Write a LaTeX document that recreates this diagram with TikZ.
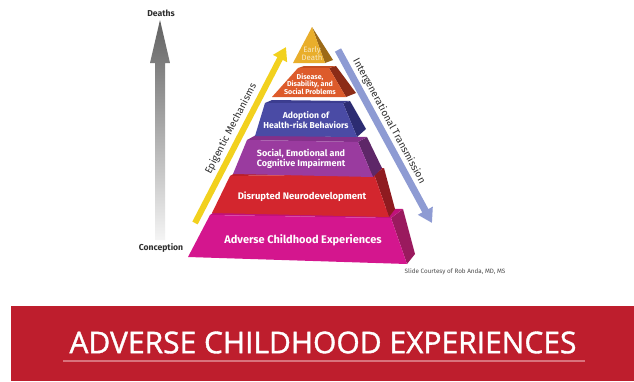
\documentclass[tikz,border=0pt]{standalone}
\usepackage{fontspec}
\setsansfont{Fira Sans}
\newfontfamily\bannerfont[FakeBold=1.2]{Open Sans}
\usetikzlibrary{arrows.meta}

\definecolor{magFront}{HTML}{D4168E}
\definecolor{magSide}{HTML}{9A1A5E}
\definecolor{magTop}{HTML}{C0127A}
\definecolor{redFront}{HTML}{D3262E}
\definecolor{redSide}{HTML}{8F1B20}
\definecolor{redTop}{HTML}{B81E26}
\definecolor{purFront}{HTML}{9A3B9F}
\definecolor{purSide}{HTML}{5E2768}
\definecolor{purTop}{HTML}{84308A}
\definecolor{bluFront}{HTML}{4A4BA5}
\definecolor{bluSide}{HTML}{2C2C72}
\definecolor{bluTop}{HTML}{3C3D90}
\definecolor{oraFront}{HTML}{DD5B2B}
\definecolor{oraSide}{HTML}{8C2C17}
\definecolor{oraTop}{HTML}{C54D22}
\definecolor{golFront}{HTML}{E9AE2B}
\definecolor{golSide}{HTML}{9C6A17}
\definecolor{epiYellow}{HTML}{F2D11E}
\definecolor{transBlue}{HTML}{8E9BD3}
\definecolor{labelGray}{HTML}{2E2E2E}
\definecolor{bannerRed}{HTML}{BE1E2D}
\definecolor{bannerLine}{HTML}{D9727C}

\newcommand\fsz[2]{\fontsize{#1}{#2}\selectfont}

\tikzset{
  tierlbl/.style={text=white, align=center, inner sep=0pt},
  sidelbl/.style={text=labelGray, inner sep=0pt},
  epiarrow/.style={draw=epiYellow, line width=6pt,
    -{Triangle[length=13pt,width=15pt]}},
  transarrow/.style={draw=transBlue, line width=7pt,
    -{Triangle[length=14pt,width=16pt]}},
}

\begin{document}
\begin{tikzpicture}[x=1pt,y=-1pt]
\fill[white] (0,0) rectangle (634,381);
\useasboundingbox (0,0) rectangle (634,381);

% time axis from conception to death
\shade[top color=black!62, middle color=black!30, bottom color=black!4]
  (160,20) -- (170,63) -- (165,63) -- (165,240) -- (155,240)
  -- (155,63) -- (150,63) -- cycle;
\node[sidelbl, font=\sffamily\bfseries\fsz{8.6}{10}] (deaths) at (161,13) {Deaths};
\node[sidelbl, font=\sffamily\bfseries\fsz{8.6}{10}] (conception) at (161,248) {Conception};

% side arrows
\coordinate (epiStart) at (195,223);
\coordinate (epiEnd) at (286,47);
\draw[epiarrow] (epiStart) -- (epiEnd);
\node[sidelbl, font=\sffamily\fsz{10}{10}, rotate=62.7] (epi) at (231,129) {Epigentic Mechanisms};

\coordinate (transStart) at (338,50);
\coordinate (transEnd) at (432,223);
\draw[transarrow] (transStart) -- (transEnd);
\node[sidelbl, font=\sffamily\fsz{10}{10}, rotate=-61.5] (trans) at (389,121) {Intergenerational Transmission};

% pyramid tiers, bottom to top: side face, top ledge, front face
% Adverse Childhood Experiences
\fill[magSide] (391,218) -- (403,209) -- (415,254) -- (407,264) -- cycle;
\fill[magTop] (210,215) -- (222,206) -- (403,209) -- (391,218) -- cycle;
\fill[magFront] (210,215) -- (391,218) -- (407,264) -- (188,257) -- cycle;
% Disrupted Neurodevelopment
\fill[redSide] (374,174) -- (384,168) -- (395,209) -- (389,217) -- cycle;
\fill[redTop] (230,176) -- (240,170) -- (384,168) -- (374,174) -- cycle;
\fill[redFront] (230,176) -- (374,174) -- (389,217) -- (212,213) -- cycle;
% Social, Emotional and Cognitive Impairment
\fill[purSide] (358,142) -- (367,137) -- (382,168) -- (373,177) -- cycle;
\fill[purTop] (247,140) -- (256,135) -- (367,137) -- (358,142) -- cycle;
\fill[purFront] (247,140) -- (358,142) -- (373,177) -- (233,174) -- cycle;
% Adoption of Health-risk Behaviors
\fill[bluSide] (343,103) -- (350,101) -- (366,129) -- (357,137) -- cycle;
\fill[bluTop] (265,103) -- (272,100) -- (350,101) -- (343,103) -- cycle;
\fill[bluFront] (265,103) -- (343,103) -- (357,137) -- (255,136) -- cycle;
% Disease, Disability, and Social Problems
\fill[oraSide] (329,68) -- (336,66) -- (356,93) -- (346,97) -- cycle;
\fill[oraTop] (298,68) -- (304,66) -- (336,66) -- (329,68) -- cycle;
\fill[oraFront] (298,68) -- (329,68) -- (346,97) -- (272,97) -- cycle;
% Early Death
\fill[golSide] (312,27) -- (333,60) -- (325,63) -- cycle;
\fill[golFront] (312,27) -- (325,63) -- (293,63) -- cycle;

% tier labels
\node[tierlbl, font=\sffamily\bfseries\fsz{11}{12}] (ace) at (303,240) {Adverse Childhood Experiences};
\node[tierlbl, font=\sffamily\bfseries\fsz{9.5}{10}] (neuro) at (302,197) {Disrupted Neurodevelopment};
\node[tierlbl, font=\sffamily\bfseries\fsz{9}{8.8}] (social) at (301,159) {Social, Emotional and\\Cognitive Impairment};
\node[tierlbl, font=\sffamily\bfseries\fsz{8.6}{8.4}] (risk) at (306,120) {Adoption of\\Health-risk Behaviors};
\node[tierlbl, font=\sffamily\bfseries\fsz{7.1}{7.4}] (disease) at (310,84) {Disease,\\Disability, and\\Social Problems};
\node[tierlbl, text=golFront!30, font=\sffamily\fsz{7.8}{8}] (death) at (312,54) {Early\\Death};

\node[sidelbl, text=black!70, font=\sffamily\fsz{6.3}{7}] (credit) at (455,272) {Slide Courtesy of Rob Anda, MD, MS};

% title banner
\fill[bannerRed] (11,306) rectangle (634,381);
\node[text=white, inner sep=0pt, font=\bannerfont\fsz{30}{32}] (title) at (323,342.5) {ADVERSE CHILDHOOD EXPERIENCES};
\coordinate (ruleL) at (63,361);
\coordinate (ruleR) at (585,361);
\draw[bannerLine, line width=1.5pt] (ruleL) -- (ruleR);
\end{tikzpicture}
\end{document}
